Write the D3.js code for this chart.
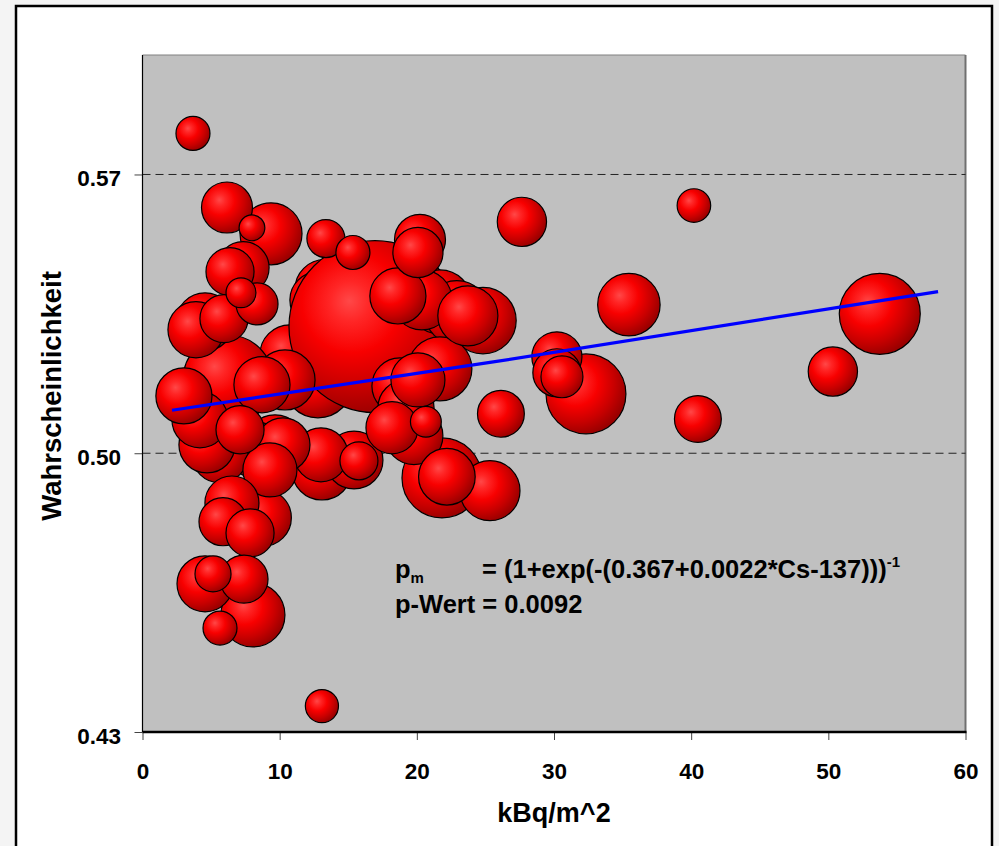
<!DOCTYPE html>
<html>
<head>
<meta charset="utf-8">
<script src="https://cdn.jsdelivr.net/npm/d3@7"></script>
<style>
  html, body { margin: 0; padding: 0; background: #f4f4f4; }
  svg { display: block; }
  text { font-family: "Liberation Sans", Arial, sans-serif; font-weight: bold; fill: #000; }
</style>
</head>
<body>
<svg id="chart" width="999" height="846"></svg>
<script>
// Regions in drawing order (later entries are painted on top).
// Cs-137 deposition (kBq/m^2) per region
const cs137 = [
  13.30, 12.79, 12.79, 10.75, 16.95,
  6.23, 53.75, 32.33, 21.83, 24.82, 21.68, 22.92, 21.68, 8.05, 35.46,
  9.37, 20.37, 23.72, 25.33, 13.08, 9.66, 10.39, 19.79, 15.42, 4.56,
  8.78, 22.19, 18.62, 18.77, 19.21, 8.20, 5.65, 4.70, 4.19, 3.02,
  8.71, 4.56, 3.90, 20.08, 13.01, 10.24, 9.29, 6.52, 18.19, 7.33,
  20.23, 6.16, 30.21, 20.08, 27.66, 50.33, 30.21, 7.11, 5.87, 7.84,
  7.40, 6.38, 5.94, 40.49, 26.13, 30.58, 8.35, 15.78, 13.37, 5.14,
  3.68, 5.65, 15.34, 40.20, 13.08, 20.66, 7.18, 7.98
];
// observed probability per region
const prob = [
  0.5411, 0.5385, 0.5177, 0.5247, 0.5318,
  0.5184, 0.5350, 0.5149, 0.4938, 0.5333, 0.5380, 0.5353, 0.5212, 0.4594, 0.5373,
  0.5551, 0.5385, 0.5345, 0.4906, 0.4958, 0.5021, 0.5184, 0.5044, 0.4983, 0.5330,
  0.4838, 0.4941, 0.5395, 0.5169, 0.5114, 0.5009, 0.4996, 0.5021, 0.5084, 0.5144,
  0.5172, 0.4672, 0.5310, 0.5184, 0.4996, 0.5021, 0.4958, 0.4875, 0.5064, 0.5466,
  0.5536, 0.5617, 0.5242, 0.5504, 0.5581, 0.5205, 0.5202, 0.5059, 0.4828, 0.4800,
  0.4684, 0.5456, 0.5338, 0.5086, 0.5099, 0.5192, 0.5375, 0.4981, 0.5539, 0.4697,
  0.5803, 0.4561, 0.5504, 0.5622, 0.4365, 0.5079, 0.5403, 0.5566
];
// bubble weight (number of cases, thousands)
const weight = [
  12.5, 10.9, 17.0, 12.5, 102.4,
  28.0, 22.7, 22.1, 22.1, 15.3, 14.2, 14.2, 14.2, 14.2, 13.5,
  13.3, 12.5, 12.5, 12.5, 12.5, 12.5, 12.5, 11.6, 11.6, 11.6,
  11.2, 11.1, 10.9, 10.9, 10.9, 10.9, 10.9, 10.9, 10.9, 10.9,
  10.9, 10.9, 10.9, 10.1, 10.1, 10.1, 10.1, 10.1, 9.4, 9.4,
  9.0, 9.0, 8.7, 8.7, 8.4, 8.4, 8.0, 8.0, 8.0, 8.0,
  8.0, 8.0, 8.0, 7.6, 7.6, 6.1, 6.1, 5.0, 5.0, 4.5,
  4.0, 4.0, 4.0, 3.9, 3.8, 3.3, 3.1, 2.3
];

// fitted logistic curve, sampled
const fitX = [2.15, 25.33, 58.0];
const fitP = [0.5108, 0.5228, 0.5406];

const xTicks = [0, 10, 20, 30, 40, 50, 60];
const yTicks = [0.43, 0.50, 0.57];
const gridLines = [0.50, 0.57];

const svg = d3.select("#chart");

// outer chart frame
svg.append("rect")
  .attr("x", 16).attr("y", 6)
  .attr("width", 976).attr("height", 860)
  .attr("fill", "#ffffff")
  .attr("stroke", "#000").attr("stroke-width", 2.5);

const plot = { left: 142.5, right: 965.5, top: 55, bottom: 732 };

const x = d3.scaleLinear().domain([0, 60]).range([plot.left, plot.right]);
const y = d3.scaleLinear().domain([0.43, 0.60]).range([plot.bottom, plot.top]);
const r = d3.scaleSqrt().domain([0, 100]).range([0, 85]);

// plot area
svg.append("rect")
  .attr("x", plot.left).attr("y", plot.top)
  .attr("width", plot.right - plot.left).attr("height", plot.bottom - plot.top)
  .attr("fill", "#c0c0c0");
svg.append("line")
  .attr("x1", plot.left).attr("x2", plot.right)
  .attr("y1", plot.top).attr("y2", plot.top)
  .attr("stroke", "#808080").attr("stroke-width", 1);
svg.append("line")
  .attr("x1", plot.right).attr("x2", plot.right)
  .attr("y1", plot.top).attr("y2", plot.bottom)
  .attr("stroke", "#707070").attr("stroke-width", 2);

// dashed gridlines
svg.append("g").selectAll("line")
  .data(gridLines).join("line")
  .attr("x1", plot.left).attr("x2", plot.right)
  .attr("y1", d => y(d)).attr("y2", d => y(d))
  .attr("stroke", "#222").attr("stroke-width", 1)
  .attr("stroke-dasharray", "8,5");

// bubble shading
const defs = svg.append("defs");
const grad = defs.append("radialGradient")
  .attr("id", "ball")
  .attr("cx", 0.38).attr("cy", 0.38).attr("r", 0.64)
  .attr("fx", 0.35).attr("fy", 0.35);
[
  [0.00, "#ff4848"],
  [0.18, "#ff2626"],
  [0.45, "#f80000"],
  [0.75, "#c80000"],
  [1.00, "#9a0000"]
].forEach(([o, c]) => grad.append("stop").attr("offset", o).attr("stop-color", c));

const bubbles = cs137.map((v, i) => ({ x: v, p: prob[i], w: weight[i] }));

svg.append("g").selectAll("circle")
  .data(bubbles).join("circle")
  .attr("cx", d => x(d.x))
  .attr("cy", d => y(d.p))
  .attr("r", d => r(d.w))
  .attr("fill", "url(#ball)")
  .attr("stroke", "#000").attr("stroke-width", 1.2);

// fit line
const fit = fitX.map((v, i) => [v, fitP[i]]);
svg.append("path")
  .datum(fit)
  .attr("d", d3.line().x(d => x(d[0])).y(d => y(d[1])).curve(d3.curveMonotoneX))
  .attr("fill", "none")
  .attr("stroke", "#0000ff").attr("stroke-width", 3.2);

// axes
const yAxis = svg.append("g")
  .attr("transform", `translate(${plot.left},0)`)
  .call(d3.axisLeft(y).tickValues(yTicks).tickFormat(d3.format(".2f")).tickSize(8).tickPadding(13.5));
const xAxis = svg.append("g")
  .attr("transform", `translate(0,${plot.bottom})`)
  .call(d3.axisBottom(x).tickValues(xTicks).tickFormat(d3.format("d")).tickSize(8).tickPadding(23.5));
[yAxis, xAxis].forEach(g => {
  g.select(".domain").remove();
  g.selectAll(".tick line").attr("stroke", "#444").attr("stroke-width", 1);
  g.selectAll(".tick text").attr("font-size", 22.5)
    .style("font-family", '"Liberation Sans", Arial, sans-serif').style("font-weight", "bold");
});
yAxis.selectAll(".tick text").attr("dy", "0.5em");

svg.append("line")
  .attr("x1", plot.left).attr("x2", plot.left)
  .attr("y1", plot.top).attr("y2", plot.bottom)
  .attr("stroke", "#000").attr("stroke-width", 1.2);
svg.append("line")
  .attr("x1", plot.left).attr("x2", plot.right + 1)
  .attr("y1", plot.bottom).attr("y2", plot.bottom)
  .attr("stroke", "#000").attr("stroke-width", 2.5);

// axis titles
svg.append("text")
  .attr("transform", "translate(61,396) rotate(-90)")
  .attr("text-anchor", "middle")
  .attr("font-size", 27.5)
  .text("Wahrscheinlichkeit");
svg.append("text")
  .attr("x", 554).attr("y", 822)
  .attr("text-anchor", "middle")
  .attr("font-size", 27)
  .text("kBq/m^2");

// model annotation
const note = svg.append("g").attr("font-size", 25.5);
const l1 = note.append("text").attr("x", 395).attr("y", 578);
l1.append("tspan").text("p");
l1.append("tspan").attr("font-size", 15).attr("dy", 5).text("m");
const l1b = note.append("text").attr("x", 482).attr("y", 578);
l1b.append("tspan").text("= (1+exp(-(0.367+0.0022*Cs-137)))");
l1b.append("tspan").attr("font-size", 15).attr("dy", -11).text("-1");
note.append("text").attr("x", 395).attr("y", 613).text("p-Wert = 0.0092");
</script>
</body>
</html>
